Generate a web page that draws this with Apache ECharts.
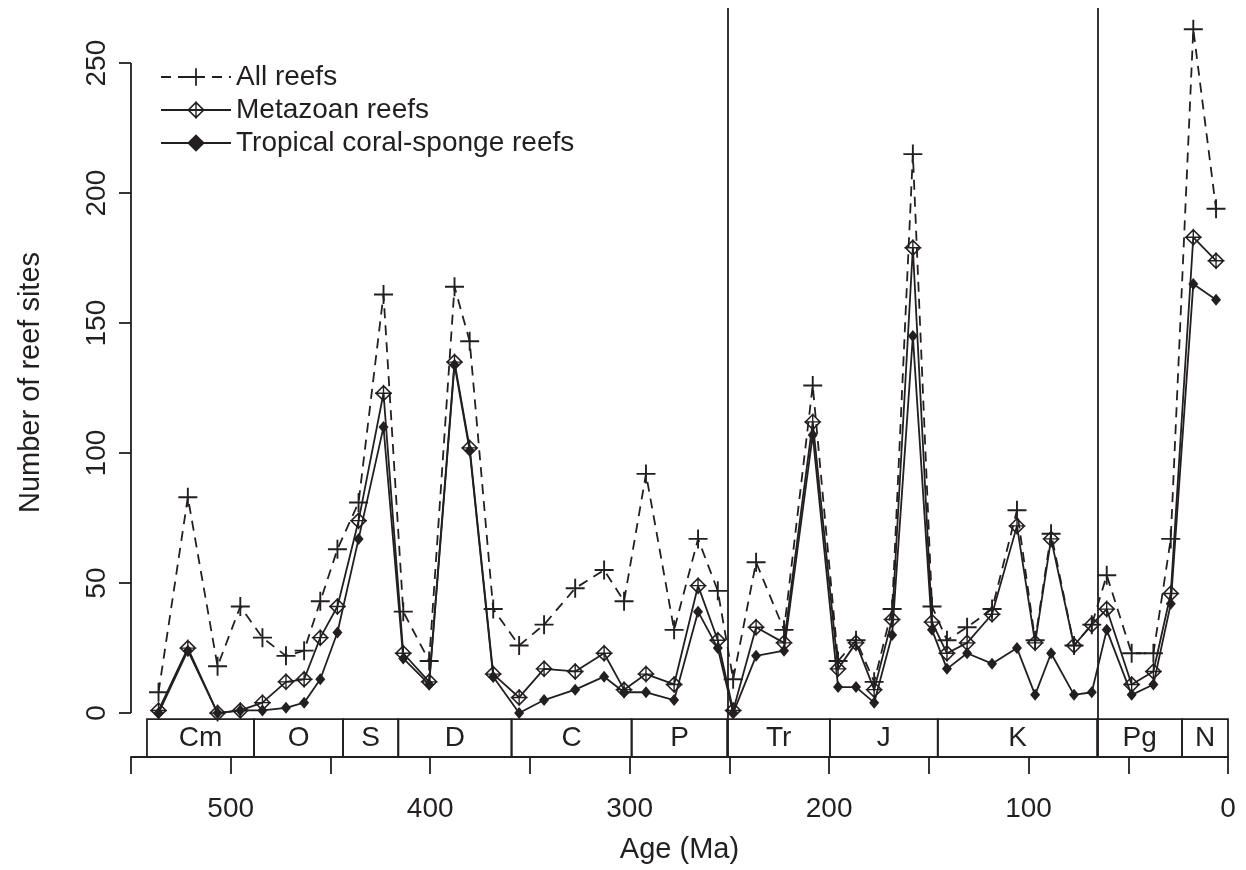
<!DOCTYPE html>
<html><head><meta charset="utf-8">
<script src="https://cdn.jsdelivr.net/npm/echarts@6/dist/echarts.min.js"></script>
<style>html,body{margin:0;padding:0;background:#fff}#c{width:1246px;height:870px}</style>
</head><body><div id="c"></div>
<script>
// ---- data ----
const ages = [536.2,521.5,506.6,495.2,484.1,472.3,463.2,455.1,446.5,435.9,423.4,413.5,400.5,387.8,380.2,368.4,355.4,342.9,327.3,312.8,302.8,291.8,277.7,265.7,255.8,248.1,236.6,222.6,208.2,195.5,186.5,177.4,168.4,158.0,148.4,140.9,130.8,118.3,105.8,96.7,88.7,77.2,68.3,60.8,48.3,37.4,28.7,17.4,6.0];
const allReefs = [8,83,18,41,29,22,24,43,63,81,161,39,20,164,143,40,26,34,48,55,43,92,32,67,47,13,58,32,126,20,28,12,40,215,41,28,33,40,78,28,69,26,34,53,23,23,67,263,194];
const metazoanReefs = [1,25,0,1,4,12,13,29,41,74,123,23,12,135,102,15,6,17,16,23,9,15,11,49,28,1,33,27,112,17,27,9,36,179,35,23,27,38,72,27,67,26,34,40,11,16,46,183,174];
const tropicalReefs = [0,24,0,1,1,2,4,13,31,67,110,21,11,134,101,14,0,5,9,14,8,8,5,39,25,0,22,24,107,10,10,4,30,145,32,17,23,19,25,7,23,7,8,32,7,11,42,165,159];
const seriesNames = ['All reefs','Metazoan reefs','Tropical coral-sponge reefs'];
const periodNames = ['Cm','O','S','D','C','P','Tr','J','K','Pg','N'];
const periodStarts = [542,488.3,443.7,416,359.2,299,251,199.6,145.5,65.5,23.03];
const periodEnds = [488.3,443.7,416,359.2,299,251,199.6,145.5,65.5,23.03,0];
const boundaryLines = [251, 65.5];
const yTickValues = [0,50,100,150,200,250];
const xLabelValues = [500,400,300,200,100,0];

// ---- styling ----
const INK = '#231f20';
const FONT = 'Liberation Sans, Arial, Helvetica, sans-serif';
const Y_MIN = -16.9, Y_MAX = 271.2, BOX_TOP = -2.3;
const LW = 1.8;
const plusPath = 'path://M45,0L55,0L55,100L45,100Z M0,45L100,45L100,55L0,55Z';
const diamondPlusPath = 'path://M50,0L100,50L50,100L0,50Z M50,13L13,50L50,87L87,50Z M46,0L54,0L54,100L46,100Z M0,46L100,46L100,54L0,54Z';

const pts = arr => ages.map((a,i)=>[a, arr[i]]);

const chart = echarts.init(document.getElementById('c'), null, {renderer:'canvas'});
chart.setOption({
  animation:false,
  backgroundColor:'#fff',
  textStyle:{fontFamily:FONT, color:INK},
  grid:{left:131, right:18, top:8, bottom:113, containLabel:false},
  legend:{
    orient:'vertical', left:155, top:58, itemWidth:70, itemHeight:22, itemGap:5,
    textStyle:{fontSize:28, color:INK, fontFamily:FONT},
    data:seriesNames
  },
  xAxis:{
    type:'value', inverse:true, min:0, max:550, interval:50,
    name:'Age (Ma)', nameLocation:'middle', nameGap:78,
    nameTextStyle:{fontSize:29, color:INK, fontFamily:FONT},
    axisLine:{show:true, onZero:false, lineStyle:{color:INK, width:LW}},
    axisTick:{show:true, length:17, lineStyle:{color:INK, width:LW}},
    axisLabel:{fontSize:28, color:INK, margin:38, fontFamily:FONT,
      formatter: v => xLabelValues.indexOf(v) >= 0 ? String(v) : ''},
    splitLine:{show:false}
  },
  yAxis:{
    type:'value', min:Y_MIN, max:Y_MAX,
    name:'Number of reef sites', nameLocation:'middle', nameGap:86,
    nameTextStyle:{fontSize:29, color:INK, fontFamily:FONT},
    axisLine:{show:false, onZero:false},
    axisTick:{show:true, length:12, customValues:yTickValues, lineStyle:{color:INK, width:LW}},
    axisLabel:{fontSize:28, color:INK, rotate:90, margin:20, customValues:yTickValues, fontFamily:FONT},
    splitLine:{show:false}
  },
  series:[
    {
      type:'custom', name:'timescale', silent:true, z:1,
      data: periodStarts.map((s,i)=>[s, periodEnds[i]]),
      encode:{x:[0,1]},
      renderItem:(params, api)=>{
        const p1 = api.coord([api.value(0), BOX_TOP]);
        const p2 = api.coord([api.value(1), Y_MIN]);
        return {type:'group', children:[
          {type:'rect', shape:{x:p1[0], y:p1[1], width:p2[0]-p1[0], height:p2[1]-p1[1]},
           style:{fill:'none', stroke:INK, lineWidth:LW}},
          {type:'text', x:(p1[0]+p2[0])/2, y:(p1[1]+p2[1])/2,
           style:{text:periodNames[params.dataIndex], align:'center', verticalAlign:'middle',
                  fontSize:28, fontFamily:FONT, fill:INK}}
        ]};
      }
    },
    {
      type:'line', name:seriesNames[0], data:pts(allReefs), z:3,
      symbol:plusPath, symbolSize:19, showAllSymbol:true,
      lineStyle:{color:INK, width:LW, type:[10,7]},
      itemStyle:{color:INK},
      markLine:{
        silent:true, symbol:'none', label:{show:false},
        lineStyle:{color:INK, width:LW, type:'solid'},
        emphasis:{disabled:true},
        data:[
          ...boundaryLines.map(v=>({xAxis:v})),
          [{coord:[550, yTickValues[0]]},{coord:[550, yTickValues[yTickValues.length-1]]}]
        ]
      }
    },
    {
      type:'line', name:seriesNames[1], data:pts(metazoanReefs), z:4,
      symbol:diamondPlusPath, symbolSize:17, showAllSymbol:true,
      lineStyle:{color:INK, width:LW, type:'solid'},
      itemStyle:{color:INK}
    },
    {
      type:'line', name:seriesNames[2], data:pts(tropicalReefs), z:5,
      symbol:'diamond', symbolSize:[10,12], showAllSymbol:true,
      lineStyle:{color:INK, width:LW, type:'solid'},
      itemStyle:{color:INK}
    }
  ]
});
</script></body></html>
